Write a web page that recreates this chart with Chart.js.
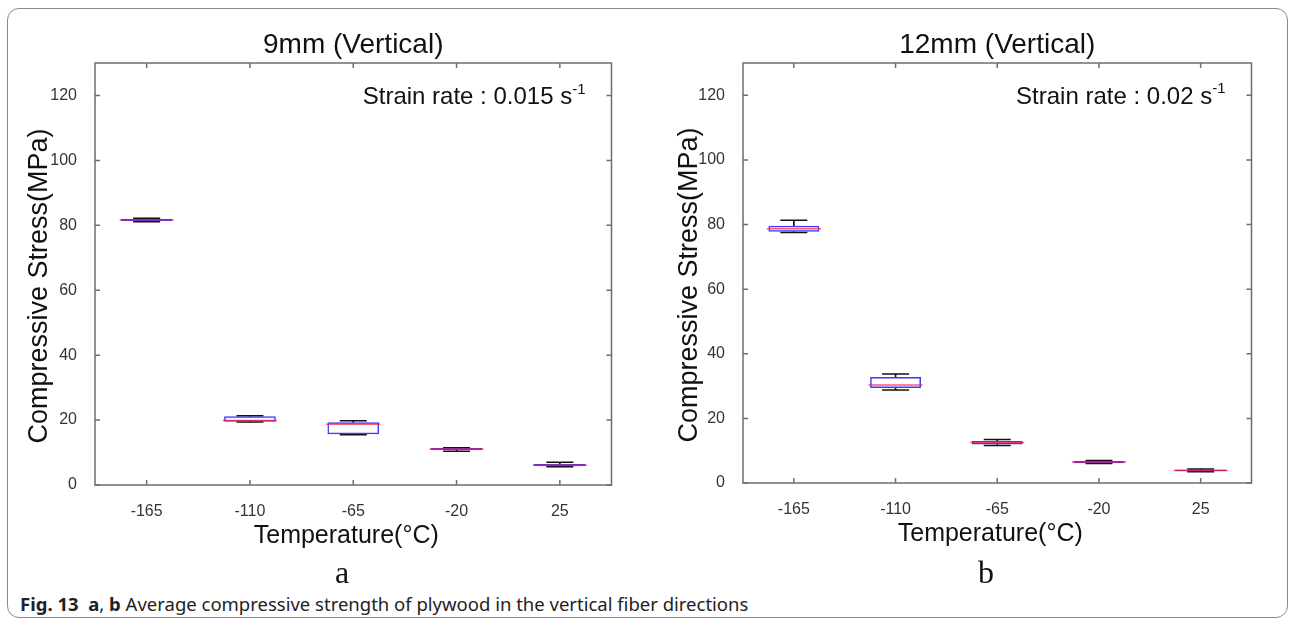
<!DOCTYPE html>
<html>
<head>
<meta charset="utf-8">
<script src="https://cdn.jsdelivr.net/npm/chart.js@4.4.0/dist/chart.umd.min.js"></script>
<style>
  body { margin: 0; background: #fff; width: 1293px; height: 627px; position: relative; overflow: hidden; }
  #frame { position: absolute; left: 7px; top: 8px; width: 1281px; height: 610px; border: 1px solid #8a8a8a; border-radius: 12px; box-sizing: border-box; }
  canvas { position: absolute; top: 0; }
  #chartA { left: 0; }
  #chartB { left: 650px; }
  .letter { position: absolute; top: 572px; transform: translate(-50%, -50%); font-family: "Liberation Serif", "Times New Roman", serif; font-size: 32px; color: #111; }
  #caption { position: absolute; left: 20px; top: 603px; transform: translateY(-50%); font-family: "Noto Sans", "Open Sans", sans-serif; font-size: 18.5px; color: #222; white-space: nowrap; }
</style>
</head>
<body>
<div id="frame"></div>
<canvas id="chartA" width="640" height="560"></canvas>
<canvas id="chartB" width="630" height="560"></canvas>
<div class="letter" style="left:342px">a</div>
<div class="letter" style="left:986px">b</div>
<div id="caption"><b>Fig. 13</b>&nbsp; <b>a</b>, <b>b</b> Average compressive strength of plywood in the vertical fiber directions</div>
<script>
const temps = ['-165', '-110', '-65', '-20', '25'];
const yTicks = [0, 20, 40, 60, 80, 100, 120];

// 9mm panel (a): box quartiles, median, whisker ends
const q1A  = [81.3, 19.5, 15.6, 10.8, 5.8];
const q3A  = [82.0, 21.2, 19.3, 11.4, 6.5];
const medA = [81.7, 19.9, 18.7, 11.1, 6.1];
const loA  = [81.1, 19.4, 15.5, 10.4, 5.6];
const hiA  = [82.2, 21.3, 19.8, 11.5, 7.0];

// 12mm panel (b)
const q1B  = [77.8, 29.4, 11.9, 6.1, 3.6];
const q3B  = [79.6, 32.8, 13.0, 6.8, 4.2];
const medB = [78.7, 30.3, 12.5, 6.5, 3.9];
const loB  = [77.5, 28.8, 11.6, 6.0, 3.5];
const hiB  = [81.3, 33.7, 13.5, 7.0, 4.3];

const FONT = '"Liberation Sans", Arial, Helvetica, sans-serif';

// draws the box frame, inward ticks on all sides, axis titles and the strain-rate note
const frameTicks = {
    id: 'frameTicks',
    afterDatasetsDraw(chart, args, opts) {
        const {ctx, chartArea: a, scales: {x, y}} = chart;
        ctx.save();
        ctx.strokeStyle = '#6e6e6e';
        ctx.lineWidth = 1.5;
        ctx.strokeRect(a.left, a.top, a.right - a.left, a.bottom - a.top);
        ctx.beginPath();
        y.ticks.forEach(t => {
            const py = y.getPixelForValue(t.value);
            ctx.moveTo(a.left, py); ctx.lineTo(a.left + 5, py);
            ctx.moveTo(a.right, py); ctx.lineTo(a.right - 5, py);
        });
        x.ticks.forEach((t, i) => {
            const px = x.getPixelForTick(i);
            ctx.moveTo(px, a.bottom); ctx.lineTo(px, a.bottom - 5);
            ctx.moveTo(px, a.top); ctx.lineTo(px, a.top + 5);
        });
        ctx.stroke();

        ctx.fillStyle = '#111';
        ctx.textAlign = 'center';
        ctx.textBaseline = 'middle';

        // x axis title
        ctx.font = '25px ' + FONT;
        ctx.fillText('Temperature(°C)', (a.left + a.right) / 2 - 7, a.bottom + 51);

        // y axis title
        ctx.save();
        ctx.translate(40, (a.top + a.bottom) / 2 + 12);
        ctx.rotate(-Math.PI / 2);
        ctx.font = '27px ' + FONT;
        ctx.fillText('Compressive Stress(MPa)', 0, 0);
        ctx.restore();

        // "Strain rate : ... s-1"
        const xr = a.right - 26;
        const yy = y.getPixelForValue(120) + 2;
        ctx.textAlign = 'right';
        ctx.font = '15px ' + FONT;
        const supW = ctx.measureText('-1').width;
        ctx.fillText('-1', xr, yy - 8);
        ctx.font = '24px ' + FONT;
        ctx.fillText(opts.text, xr - supW, yy);
        ctx.restore();
    }
};

function makeChart(id, q1, q3, med, lo, hi, title, note, yWidth, padRight, xHeight) {
    const ctx = document.getElementById(id).getContext('2d');
    const boxes = q1.map((v, i) => [v, q3[i]]);
    const lowWhisk = lo.map((v, i) => [v, q1[i]]);
    const highWhisk = hi.map((v, i) => [q3[i], v]);

    return new Chart(ctx, {
        type: 'bar',
        data: {
            labels: temps,
            datasets: [
                { data: lowWhisk, backgroundColor: '#111', barThickness: 1, grouped: false, order: 5 },
                { data: highWhisk, backgroundColor: '#111', barThickness: 1, grouped: false, order: 5 },
                {
                    type: 'line', data: lo, showLine: false, pointStyle: 'line', pointRadius: 13.5,
                    borderColor: '#111', borderWidth: 1.5, order: 4
                },
                {
                    type: 'line', data: hi, showLine: false, pointStyle: 'line', pointRadius: 13.5,
                    borderColor: '#111', borderWidth: 1.5, order: 4
                },
                {
                    data: boxes, backgroundColor: 'rgba(255,255,255,0)', borderColor: '#3a3aff',
                    borderWidth: 1.5, borderSkipped: false, barPercentage: 0.5, categoryPercentage: 1,
                    grouped: false, order: 2
                },
                {
                    type: 'line', data: med, showLine: false, pointStyle: 'line', pointRadius: 27,
                    borderColor: 'rgba(255, 20, 60, 0.7)', borderWidth: 1.5, order: 1
                }
            ]
        },
        options: {
            responsive: false,
            animation: false,
            events: [],
            layout: { padding: { left: 0, right: padRight, top: 0, bottom: 0 } },
            plugins: {
                legend: { display: false },
                tooltip: { enabled: false },
                frameTicks: { text: note }
            },
            scales: {
                x: {
                    offset: true,
                    grid: { display: false },
                    border: { display: false },
                    ticks: { padding: 9, color: '#333', font: { family: FONT, size: 16 } },
                    afterFit(s) { s.height = xHeight; }
                },
                x2: {
                    position: 'top',
                    type: 'category',
                    labels: temps,
                    grid: { display: false },
                    border: { display: false },
                    ticks: { display: false },
                    title: {
                        display: true, text: title, color: '#111',
                        font: { family: FONT, size: 28 }, padding: { top: 28, bottom: 0 }
                    },
                    afterFit(s) { s.height = 63; }
                },
                y: {
                    min: 0,
                    max: 130,
                    grid: { display: false },
                    border: { display: false },
                    ticks: {
                        stepSize: 20, includeBounds: false, padding: 10, color: '#333',
                        font: { family: FONT, size: 16 }
                    },
                    afterBuildTicks(s) { s.ticks = yTicks.map(v => ({ value: v })); },
                    afterFit(s) { s.width = yWidth; }
                }
            }
        },
        plugins: [frameTicks]
    });
}

makeChart('chartA', q1A, q3A, medA, loA, hiA, '9mm (Vertical)', 'Strain rate : 0.015 s', 95, 9, 75);
makeChart('chartB', q1B, q3B, medB, loB, hiB, '12mm (Vertical)', 'Strain rate : 0.02 s', 93, 5, 77);
</script>
</body>
</html>
